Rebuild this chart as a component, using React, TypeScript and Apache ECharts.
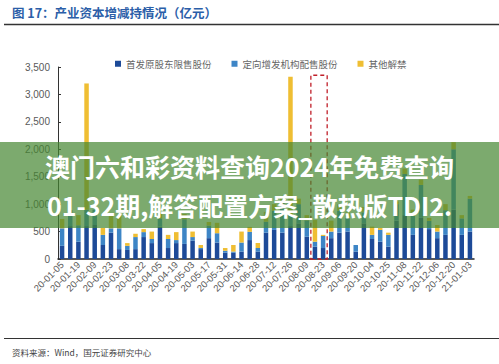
import React, { useEffect, useRef } from "react";
import * as echarts from "echarts";

const categories = [
  "20-01-05","20-01-12","20-01-19","20-02-02","20-02-09","20-02-16","20-02-23","20-03-01","20-03-08","20-03-15",
  "20-03-22","20-03-29","20-04-05","20-04-12","20-04-19","20-04-26","20-05-03","20-05-10","20-05-17","20-05-24",
  "20-05-31","20-06-07","20-06-14","20-06-21","20-06-28","20-07-05","20-07-12","20-07-19","20-07-26","20-08-02",
  "20-08-09","20-08-16","20-08-23","20-08-30","20-09-06","20-09-13","20-09-20","20-09-27","20-10-04","20-10-18",
  "20-10-25","20-11-01","20-11-08","20-11-15","20-11-22","20-11-29","20-12-06","20-12-13","20-12-20","20-12-27",
  "21-01-03"
];

const founderShares = [
  240,600,315,600,620,255,480,180,165,180,
  400,290,590,200,290,275,335,180,380,300,
  115,115,135,345,135,480,530,480,600,650,
  405,225,200,380,480,500,135,650,365,315,
  225,700,800,440,750,545,380,440,900,440,
  500
];

const placementShares = [
  320,290,300,300,280,185,80,380,75,220,
  90,75,150,165,55,450,65,20,230,170,
  35,20,165,150,65,200,350,550,200,350,
  300,90,220,120,400,250,120,200,75,215,
  215,300,750,350,600,150,120,450,1100,300,
  600
];

const otherShares = [
  170,0,185,2300,0,125,230,230,50,60,
  55,135,100,75,145,95,100,55,65,190,
  50,120,200,90,90,180,120,120,2520,100,
  95,395,20,200,120,100,0,100,150,35,
  40,50,100,110,100,55,120,110,130,60,
  50
];

const seriesNames = ["首发原股东限售股份", "定向增发机构配售股份", "其他解禁"];
const yTicks = { min: 0, max: 3500, interval: 500 };
const highlightRange = ["20-08-16", "20-08-23", 3350];

export default function App() {
  const ref = useRef<HTMLDivElement>(null);
  useEffect(() => {
    document.body.style.margin = "0";
    const chart = echarts.init(ref.current!, null, { renderer: "svg" });
    const sans = "Liberation Sans, Arial, sans-serif";
    const cjk = "Noto Sans CJK SC";
    chart.setOption({
      animation: false,
      backgroundColor: "#ffffff",
      grid: { left: 58, right: 25, top: 67, bottom: 105, containLabel: false },
      legend: {
        left: 110,
        top: 54,
        itemWidth: 6,
        itemHeight: 6,
        itemGap: 20,
        icon: "rect",
        textStyle: { fontFamily: cjk, fontSize: 9.5, color: "#666666" },
        data: seriesNames,
      },
      xAxis: {
        type: "category",
        data: categories,
        axisLine: { lineStyle: { color: "#222222", width: 1.5 } },
        axisTick: { show: false },
        axisLabel: {
          interval: 1,
          rotate: 45,
          fontSize: 9.5,
          fontFamily: sans,
          color: "#595959",
          margin: 4,
        },
      },
      yAxis: {
        type: "value",
        min: yTicks.min,
        max: yTicks.max,
        interval: yTicks.interval,
        axisLine: { show: true, lineStyle: { color: "#333333", width: 1 } },
        axisTick: { show: true, inside: true, length: 3, lineStyle: { color: "#333333" } },
        splitLine: { show: false },
        axisLabel: {
          fontSize: 10,
          fontFamily: sans,
          color: "#595959",
          margin: 8,
          formatter: (v: number) => v.toLocaleString("en-US"),
        },
      },
      series: [
        {
          name: seriesNames[0],
          type: "bar",
          stack: "total",
          barWidth: 4.5,
          data: founderShares,
          itemStyle: { color: "#1d4a98" },
        },
        {
          name: seriesNames[1],
          type: "bar",
          stack: "total",
          barWidth: 4.5,
          data: placementShares,
          itemStyle: { color: "#3d85c6" },
        },
        {
          name: seriesNames[2],
          type: "bar",
          stack: "total",
          barWidth: 4.5,
          data: otherShares,
          itemStyle: { color: "#efbe33" },
          markArea: {
            silent: true,
            itemStyle: {
              color: "rgba(0,0,0,0)",
              borderColor: "#c0202a",
              borderWidth: 1.3,
              borderType: [4, 3],
            },
            data: [[{ xAxis: highlightRange[0], yAxis: 0 }, { xAxis: highlightRange[1], yAxis: highlightRange[2] }]],
          },
        },
      ],
      graphic: [
        {
          type: "text",
          left: 12,
          top: 6,
          style: {
            text: "图 17：产业资本增减持情况（亿元）",
            fontFamily: cjk,
            fontSize: 12.5,
            fontWeight: "bold",
            fill: "#2b5ea8",
          },
        },
        {
          type: "line",
          shape: { x1: 4, y1: 24.5, x2: 499, y2: 24.5 },
          style: { stroke: "#333333", lineWidth: 1.5 },
        },
        {
          type: "line",
          shape: { x1: 4, y1: 338.5, x2: 499, y2: 338.5 },
          style: { stroke: "#333333", lineWidth: 1.2 },
        },
        {
          type: "text",
          left: 12,
          top: 348,
          style: {
            text: "资料来源：Wind，国元证券研究中心",
            fontFamily: cjk,
            fontSize: 8.5,
            fill: "#444444",
          },
        },
        {
          type: "rect",
          shape: { x: 0, y: 142, width: 499, height: 86 },
          style: { fill: "rgba(69,134,48,0.7)" },
          z: 100,
        },
        {
          type: "text",
          x: 249.5,
          y: 166,
          z: 101,
          style: {
            text: "澳门六和彩资料查询2024年免费查询",
            fontFamily: cjk,
            fontSize: 25,
            fontWeight: "bold",
            fill: "#ffffff",
            align: "center",
            verticalAlign: "middle",
          },
        },
        {
          type: "text",
          x: 249.5,
          y: 205,
          z: 101,
          style: {
            text: "01-32期,解答配置方案_散热版TDI2.",
            fontFamily: cjk,
            fontSize: 25,
            fontWeight: "bold",
            fill: "#ffffff",
            align: "center",
            verticalAlign: "middle",
          },
        },
      ],
    });
    return () => chart.dispose();
  }, []);
  return <div ref={ref} style={{ width: 499, height: 364 }} />;
}
